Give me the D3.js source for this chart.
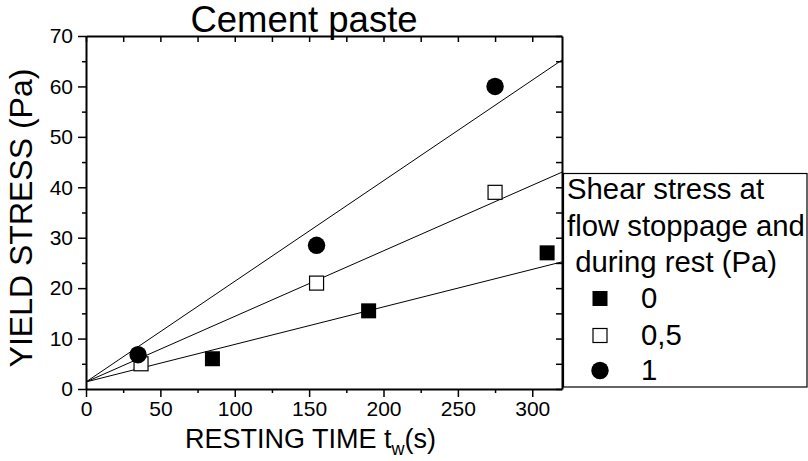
<!DOCTYPE html>
<html>
<head>
<meta charset="utf-8">
<script src="https://cdn.jsdelivr.net/npm/d3@7"></script>
<style>
  html, body { margin: 0; padding: 0; background: #fff; }
  svg { display: block; font-family: "Liberation Sans", Arial, sans-serif; }
</style>
</head>
<body>
<svg id="chart" width="808" height="461"></svg>
<script>
// ---- data ----
const seriesNames = ["0", "0,5", "1"];
const seriesShapes = ["filledSquare", "openSquare", "filledCircle"];
const timesS0 = [85, 190, 310];
const stressS0 = [6, 15.5, 27];
const timesS05 = [37, 155, 275];
const stressS05 = [5, 21, 39];
const timesS1 = [35, 155, 275];
const stressS1 = [6.8, 28.5, 60];
const fitIntercepts = [1.4, 1.4, 1.4];
const fitSlopes = [0.0744, 0.130, 0.1995];
const xTicks = [0, 50, 100, 150, 200, 250, 300];
const xMinorTicks = [25, 75, 125, 175, 225, 275];
const yTicks = [0, 10, 20, 30, 40, 50, 60, 70];
const yMinorTicks = [5, 15, 25, 35, 45, 55, 65];
const legendTitleLines = ["Shear stress at", "flow stoppage and", "\u00a0during rest (Pa)"];
const chartTitle = "Cement paste";
const xLabelMain = "RESTING TIME t";
const xLabelSub = "w";
const xLabelEnd = "(s)";
const yLabel = "YIELD STRESS (Pa)";

// ---- layout ----
const FONT = "Liberation Sans, Arial, sans-serif";
const svg = d3.select("#chart");
const L = 86, R = 562, T = 36, B = 389;
const x = d3.scaleLinear().domain([0, 320]).range([L, R]);
const y = d3.scaleLinear().domain([0, 70]).range([B, T]);

const series = [
  { name: seriesNames[0], shape: seriesShapes[0], xs: timesS0, ys: stressS0 },
  { name: seriesNames[1], shape: seriesShapes[1], xs: timesS05, ys: stressS05 },
  { name: seriesNames[2], shape: seriesShapes[2], xs: timesS1, ys: stressS1 }
];

svg.append("defs").append("clipPath").attr("id", "plotclip")
  .append("rect").attr("x", L).attr("y", T).attr("width", R - L).attr("height", B - T);

// fit lines
const lineGen = d3.line().x(d => x(d[0])).y(d => y(d[1]));
const gLines = svg.append("g").attr("clip-path", "url(#plotclip)");
fitIntercepts.forEach((b, i) => {
  const pts = x.domain().map(t => [t, b + fitSlopes[i] * t]);
  gLines.append("path").attr("d", lineGen(pts))
    .attr("fill", "none").attr("stroke", "#000").attr("stroke-width", 1);
});

// markers
function drawMarker(g, shape, cx, cy) {
  if (shape === "filledCircle") {
    g.append("circle").attr("cx", cx).attr("cy", cy).attr("r", 8.7).attr("fill", "#000");
  } else if (shape === "filledSquare") {
    g.append("rect").attr("x", cx - 7.5).attr("y", cy - 7.5).attr("width", 15).attr("height", 15).attr("fill", "#000");
  } else {
    g.append("rect").attr("x", cx - 7).attr("y", cy - 7).attr("width", 14).attr("height", 14)
      .attr("fill", "#fff").attr("stroke", "#000").attr("stroke-width", 1.2);
  }
}
const gMarks = svg.append("g");
series.forEach(s => {
  s.xs.forEach((t, j) => drawMarker(gMarks, s.shape, x(t), y(s.ys[j])));
});

// axes
function styleAxis(g, w) {
  g.select(".domain").attr("stroke", "#000").attr("stroke-width", w);
  g.selectAll(".tick line").attr("stroke", "#000").attr("stroke-width", 1.5);
}
const fs = 21;
const gxMinor = svg.append("g").attr("transform", `translate(0,${B})`)
  .call(d3.axisBottom(x).tickValues(xMinorTicks).tickSize(4).tickFormat(""));
styleAxis(gxMinor, 0);
const gx = svg.append("g").attr("transform", `translate(0,${B})`)
  .call(d3.axisBottom(x).tickValues(xTicks).tickSize(8).tickSizeOuter(0).tickPadding(4));
styleAxis(gx, 2);
gx.selectAll("text").attr("font-size", fs).attr("fill", "#000").attr("font-family", FONT);

const gyMinor = svg.append("g").attr("transform", `translate(${L},0)`)
  .call(d3.axisLeft(y).tickValues(yMinorTicks).tickSize(4).tickFormat(""));
styleAxis(gyMinor, 0);
const gy = svg.append("g").attr("transform", `translate(${L},0)`)
  .call(d3.axisLeft(y).tickValues(yTicks).tickSize(8).tickSizeOuter(0).tickPadding(5));
styleAxis(gy, 2);
gy.selectAll("text").attr("font-size", fs).attr("fill", "#000").attr("font-family", FONT);

const gTop = svg.append("g").attr("transform", `translate(0,${T})`)
  .call(d3.axisTop(x).tickValues(xTicks.concat(xMinorTicks)).tickSize(-6).tickSizeOuter(0).tickFormat(""));
styleAxis(gTop, 2);
const gRight = svg.append("g").attr("transform", `translate(${R},0)`)
  .call(d3.axisRight(y).tickValues(yTicks.concat(yMinorTicks)).tickSize(-6).tickSizeOuter(0).tickFormat(""));
styleAxis(gRight, 2);

// title
svg.append("text").attr("x", 304).attr("y", 32).attr("text-anchor", "middle")
  .attr("font-size", 36.5).attr("fill", "#000").text(chartTitle);

// x label
const xl = svg.append("text").attr("x", 185).attr("y", 448).attr("font-size", 27).attr("fill", "#000");
xl.append("tspan").text(xLabelMain);
xl.append("tspan").attr("font-size", 18).attr("dy", 7).text(xLabelSub);
xl.append("tspan").attr("font-size", 27).attr("dy", -7).text(xLabelEnd);

// y label
svg.append("text").attr("transform", `translate(32,218) rotate(-90)`)
  .attr("text-anchor", "middle").attr("font-size", 32).attr("fill", "#000").text(yLabel);

// legend
const lg = svg.append("g");
lg.append("rect").attr("x", 563.5).attr("y", 173.5).attr("width", 243.5).attr("height", 213.5)
  .attr("fill", "#fff").attr("stroke", "#000").attr("stroke-width", 1.2);
const lfs = 29.3;
const lineBase = [199, 235.5, 272];
legendTitleLines.forEach((t, i) => {
  lg.append("text").attr("x", 567).attr("y", lineBase[i]).attr("font-size", lfs).attr("fill", "#000").text(t);
});
const itemBase = [308, 345, 380];
series.forEach((s, i) => {
  drawMarker(lg, s.shape, 600, itemBase[i] - 9.5);
  lg.append("text").attr("x", 641).attr("y", itemBase[i]).attr("font-size", lfs).attr("fill", "#000").text(s.name);
});
</script>
</body>
</html>
